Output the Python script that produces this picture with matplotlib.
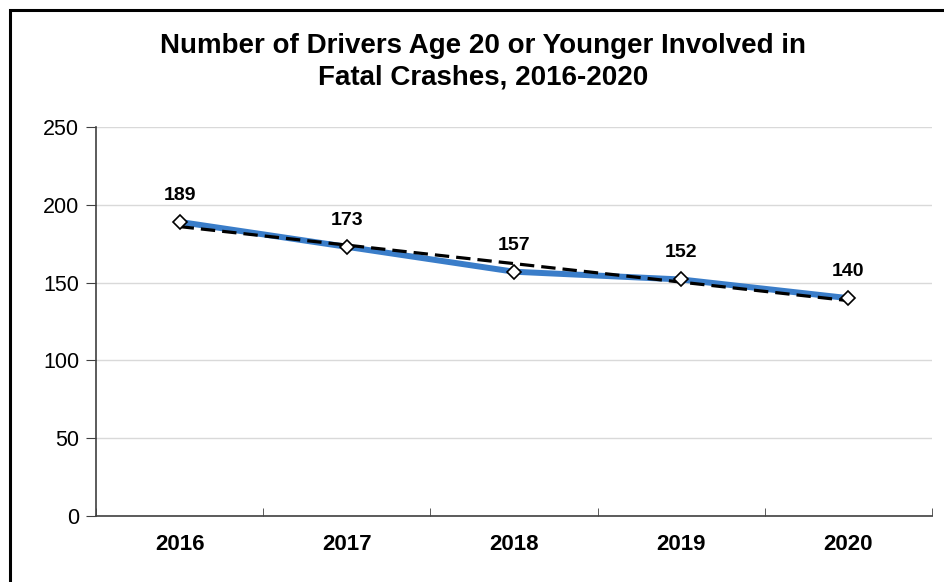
import numpy as np
import matplotlib.pyplot as plt
from matplotlib.patches import Rectangle

plt.rcParams['font.family'] = ['Liberation Sans', 'DejaVu Sans']

years = ['2016', '2017', '2018', '2019', '2020']
drivers = [189, 173, 157, 152, 140]

x = np.arange(len(years))
# linear trendline through the yearly counts
slope, intercept = np.polyfit(x, drivers, 1)
trend = slope * x + intercept

fig = plt.figure(figsize=(9.45, 5.82), dpi=100)
ax = fig.add_axes([0.1016, 0.1134, 0.8846, 0.6684])

ax.yaxis.grid(True, color='#d9d9d9', linewidth=1)
ax.set_axisbelow(True)

ax.plot(x, drivers, color='#3a7dc9', linewidth=4.3, zorder=2, solid_capstyle='butt')
ax.plot(x, trend, color='black', linewidth=2.3, linestyle=(0, (4.5, 2.2)), zorder=3)
ax.plot(x, drivers, linestyle='none', marker='D', markersize=7.5,
        markerfacecolor='white', markeredgecolor='black', markeredgewidth=1.2, zorder=4)

for xi, v in zip(x, drivers):
    ax.annotate(str(v), (xi, v), xytext=(0, 13), textcoords='offset points',
                ha='center', va='bottom', fontsize=14, fontweight='bold')

ax.set_xlim(-0.5, len(years) - 0.5)
ax.set_ylim(0, 250)
ax.set_yticks([0, 50, 100, 150, 200, 250])
ax.set_xticks(x)
ax.set_xticklabels(years, fontsize=16, fontweight='bold')
ax.set_xticks(np.arange(-0.5, len(years)), minor=True)
ax.tick_params(axis='x', which='major', length=0, pad=13)
ax.tick_params(axis='x', which='minor', length=6, direction='in', color='#404040')
ax.tick_params(axis='y', labelsize=15.5, length=7, color='#404040', pad=5)

for side in ['top', 'right']:
    ax.spines[side].set_visible(False)
for side in ['left', 'bottom']:
    ax.spines[side].set_color('#404040')
    ax.spines[side].set_linewidth(1.2)

fig.text(0.511, 0.894, 'Number of Drivers Age 20 or Younger Involved in\nFatal Crashes, 2016-2020',
         ha='center', va='center', fontsize=20, fontweight='bold', linespacing=1.25)

fig.patches.append(Rectangle((10 / 945, -0.1), 1.2, (572 / 582) + 0.1, transform=fig.transFigure,
                             fill=False, edgecolor='black', linewidth=2.2))

fig.savefig('out.png', dpi=100)
